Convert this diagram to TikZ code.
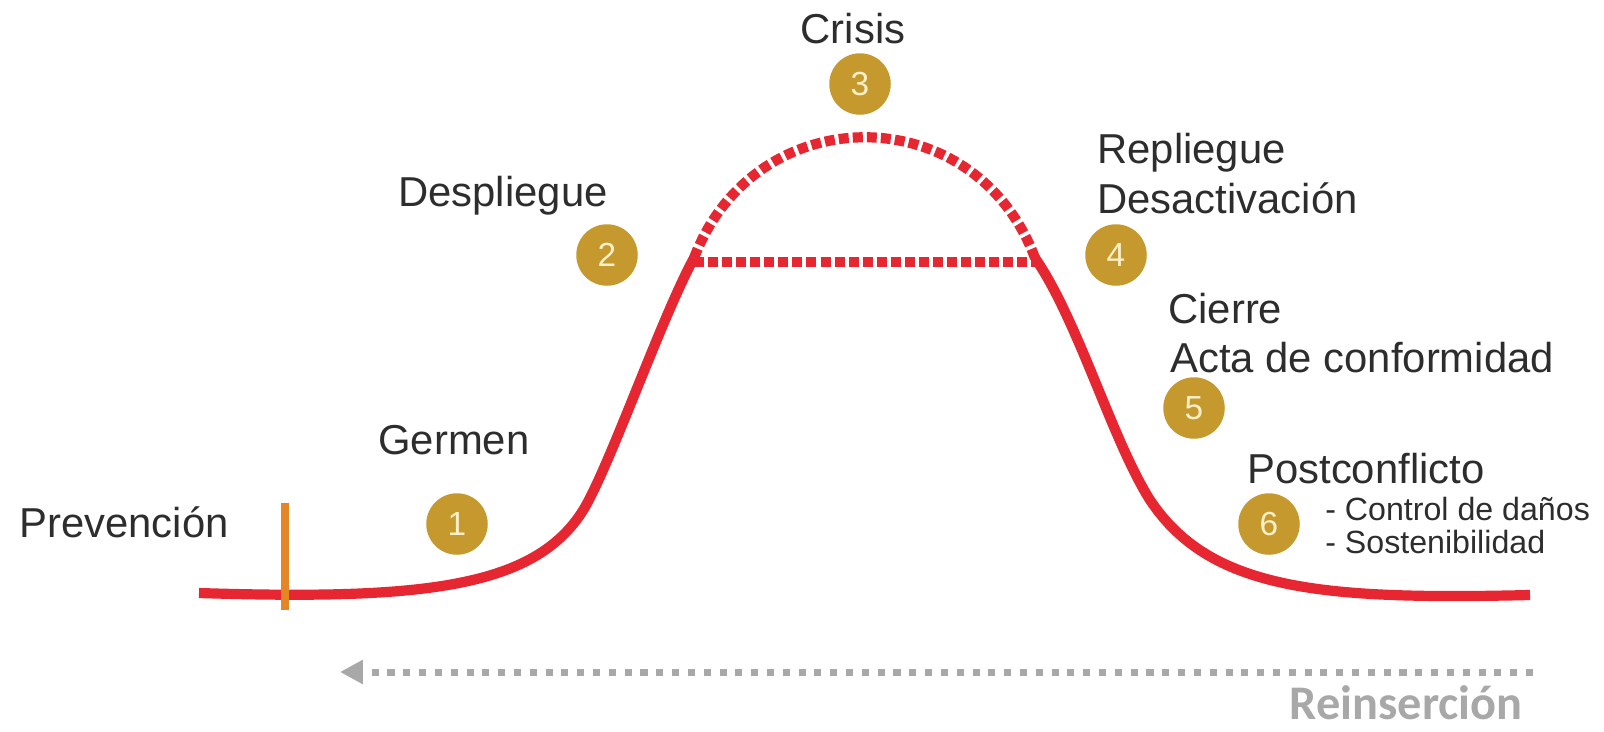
\documentclass[tikz,border=0pt]{standalone}
\usepackage{fontspec}
\setmainfont{Liberation Sans}
\newfontfamily\boldlabel{Carlito}
\usetikzlibrary{arrows.meta}

\definecolor{curvered}{RGB}{230,38,48}
\definecolor{phasegold}{RGB}{198,153,46}
\definecolor{digitcream}{RGB}{252,240,200}
\definecolor{markorange}{RGB}{228,134,38}
\definecolor{textgray}{RGB}{45,45,45}
\definecolor{arrowgray}{RGB}{168,168,168}

\tikzset{
  phase/.style={circle,fill=phasegold,text=digitcream,minimum size=35pt,inner sep=0pt,font=\fontsize{19}{19}\selectfont},
  stage/.style={anchor=base west,inner sep=0pt,text=textgray,font=\fontsize{23.8}{28}\selectfont},
  detail/.style={anchor=base west,inner sep=0pt,text=textgray,font=\fontsize{18.3}{22}\selectfont},
  redcurve/.style={curvered,line width=5.8pt},
  reddash/.style={curvered,line width=5.8pt,dash pattern=on 5.7pt off 2.3pt},
}

\begin{document}
\begin{tikzpicture}[x=0.02cm,y=-0.02cm]
\useasboundingbox (0,0) rectangle (1604,731);

\begin{scope}
\draw[redcurve] (199,593) .. controls (420,600) and (530,588) .. (580,515)
  .. controls (605,480) and (660,320) .. (694,258);
\draw[redcurve] (1035,258) .. controls (1078,320) and (1112,440) .. (1150,500)
  .. controls (1210,590) and (1320,600) .. (1530,595);
\draw[reddash] (694,258) .. controls (755,97) and (975,97) .. (1035,258);
\draw[reddash] (694,262) -- (1035,262);
\end{scope}
\draw[markorange,line width=5pt] (285,503) -- (285,610);

\node[phase] (p1) at (457,524) {1};
\node[phase] (p2) at (607,255) {2};
\node[phase] (p3) at (860,84) {3};
\node[phase] (p4) at (1116,255) {4};
\node[phase] (p5) at (1194,408) {5};
\node[phase] (p6) at (1269,524) {6};

\node[stage] (prevencion) at (19,537) {Prevención};
\node[stage] (germen) at (378,454) {Germen};
\node[stage] (despliegue) at (398,206) {Despliegue};
\node[stage,anchor=base] (crisis) at (853,43) {Crisis};
\node[stage] (repliegue) at (1097,163) {Repliegue};
\node[stage] (desactivacion) at (1097,213) {Desactivación};
\node[stage] (cierre) at (1168,323) {Cierre};
\node[stage] (acta) at (1170,372) {Acta de conformidad};
\node[stage] (postconflicto) at (1247,483) {Postconflicto};
\node[detail] (danos) at (1325,520) {- Control de daños};
\node[detail] (sostenibilidad) at (1325,553) {- Sostenibilidad};

\coordinate (reinstart) at (1533,672);
\coordinate (reinend) at (340,672);
\draw[arrowgray,line width=4pt,dash pattern=on 4pt off 5pt,-{Triangle[length=13pt,width=13pt]}] (reinstart) -- (reinend);
\node[anchor=base east,inner sep=0pt,text=arrowgray,font=\boldlabel\bfseries\fontsize{27.5}{30}\selectfont] (reinsercion) at (1523,719) {Reinserción};
\end{tikzpicture}
\end{document}
